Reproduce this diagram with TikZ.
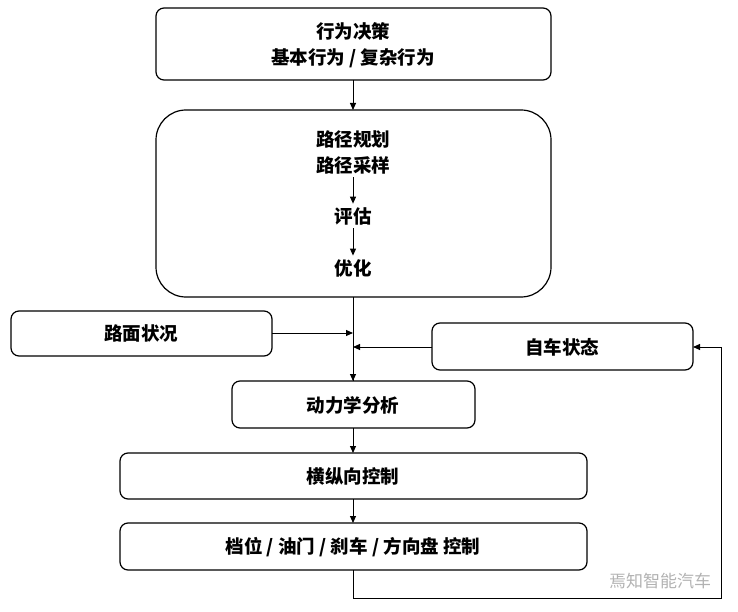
\documentclass[tikz,border=0pt]{standalone}
\usepackage{fontspec}
\setmainfont{Noto Sans CJK SC}
\usetikzlibrary{arrows.meta}
\begin{document}
\begin{tikzpicture}[x=1pt,y=-1pt,
  box/.style={draw,line width=1.2pt,rounded corners=8pt},
  lbl/.style={font=\fontsize{18.5}{26}\selectfont\bfseries,align=center},
  arr/.style={-{Triangle[length=7pt,width=6pt]},line width=1pt}]
\useasboundingbox (0,0) rectangle (738,612);
\draw[box] (156,8) rectangle (551,80);
\node[lbl] (dec) at (353,45) {行为决策\\基本行为 / 复杂行为};
\coordinate (decB) at (353,80);
\draw[box,rounded corners=30pt] (156,110) rectangle (551,297);
\coordinate (plT) at (353,110);
\coordinate (plB) at (353,297);
\node[lbl] (pl) at (353,152) {路径规划\\路径采样};
\node[lbl] (ev) at (353,216) {评估};
\node[lbl] (op) at (353,268) {优化};
\draw[arr] (pl) -- (ev);
\draw[arr] (ev) -- (op);
\draw[arr] (decB) -- (plT);
\draw[box] (11,311) rectangle (272,356);
\node[lbl] (road) at (141,333) {路面状况};
\draw[box] (432,323) rectangle (693,370);
\node[lbl] (self) at (562,347) {自车状态};
\draw[box] (232,381) rectangle (475,428);
\node[lbl] (dyn) at (353,405) {动力学分析};
\draw[box] (120,453) rectangle (587,499);
\node[lbl] (lat) at (353,476) {横纵向控制};
\draw[box] (120,523) rectangle (587,570);
\node[lbl] (act) at (353,547) {档位 / 油门 / 刹车 / 方向盘 控制};
\coordinate (j1) at (353,333);
\coordinate (j2) at (353,347);
\coordinate (dynT) at (353,381);
\draw[line width=1pt] (plB) -- (dynT);
\draw[arr] (272,333) -- (j1);
\draw[arr] (432,347) -- (j2);
\draw[arr] (353,360) -- (dynT);
\draw[arr] (353,428) -- (353,453);
\draw[arr] (353,499) -- (353,523);
\draw[arr] (353,570) -- (353,598) -- (721,598) -- (721,347) -- (693,347);
\node[text=gray!60,font=\fontsize{17}{19}\selectfont] (wm) at (660,581) {焉知智能汽车};
\end{tikzpicture}
\end{document}
